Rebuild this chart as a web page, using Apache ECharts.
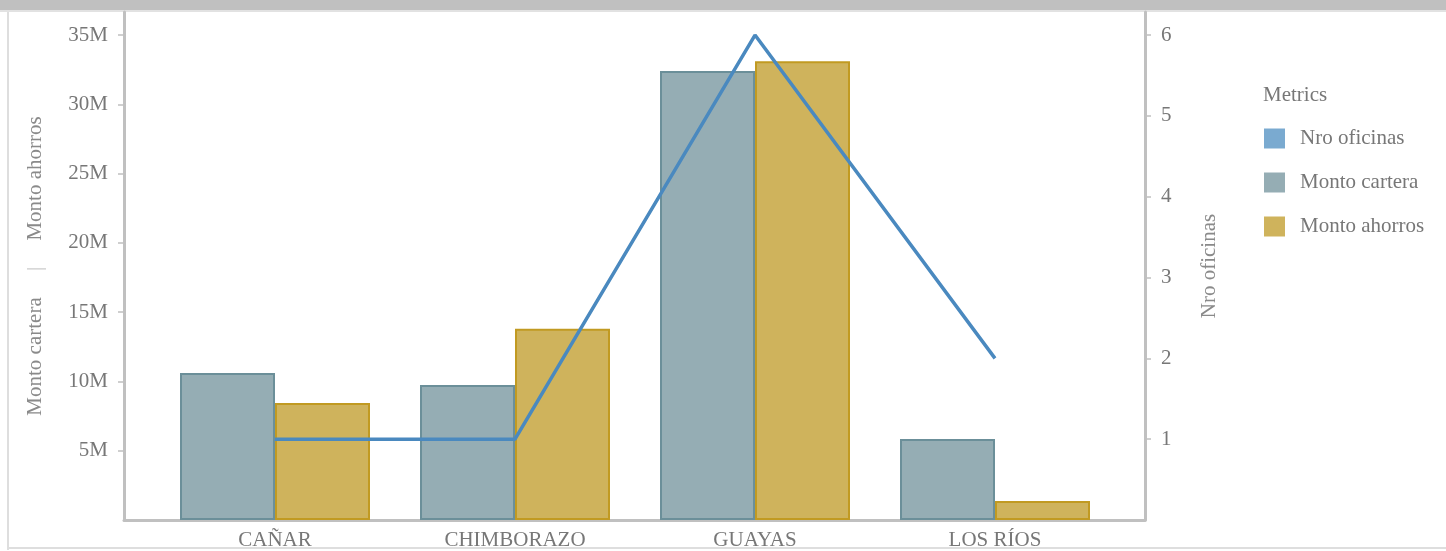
<!DOCTYPE html>
<html>
<head>
<meta charset="utf-8">
<script src="https://cdn.jsdelivr.net/npm/echarts@6/dist/echarts.min.js"></script>
<style>
html,body{margin:0;padding:0;background:#fff;}
#topbar{position:absolute;left:0;top:0;width:1446px;height:10px;background:#c0c0c0;}
#topline{position:absolute;left:0;top:10px;width:1446px;height:2px;background:#e2e2e2;}
#frameL{position:absolute;left:7px;top:12px;width:2px;height:538px;background:#dedede;}
#frameB{position:absolute;left:7px;top:547px;width:1439px;height:2px;background:#dedede;}
#chart{position:absolute;left:0;top:0;width:1446px;height:551px;}
</style>
</head>
<body>
<div id="topbar"></div><div id="topline"></div><div id="frameL"></div><div id="frameB"></div>
<div id="chart"></div>
<script>
const categories = ['CAÑAR', 'CHIMBORAZO', 'GUAYAS', 'LOS RÍOS'];
const nroOficinas = [1, 1, 6, 2];
const montoCartera = [10.6e6, 9.75e6, 32.4e6, 5.85e6];
const montoAhorros = [8.45e6, 13.8e6, 33.1e6, 1.37e6];
const leftTicks = [5e6, 10e6, 15e6, 20e6, 25e6, 30e6, 35e6];
const rightTicks = [1, 2, 3, 4, 5, 6];

const FONT = 'Liberation Serif';
const TXT = '#777777';
const AX = '#c0c0c0';

const chart = echarts.init(document.getElementById('chart'));
chart.setOption({
  animation: false,
  textStyle: { fontFamily: FONT },
  title: {
    text: 'Metrics', left: 1263, top: 85, padding: 0,
    textStyle: { fontFamily: FONT, fontSize: 21, fontWeight: 'normal', color: TXT }
  },
  legend: {
    orient: 'vertical', left: 1264, top: 128, padding: 0,
    itemWidth: 21, itemHeight: 20, itemGap: 23,
    icon: 'rect',
    itemStyle: { borderWidth: 0 },
    textStyle: { fontFamily: FONT, fontSize: 21, color: TXT, padding: [0, 0, 0, 10] },
    data: [
      { name: 'Nro oficinas', itemStyle: { color: '#7aaad0' } },
      { name: 'Monto cartera', itemStyle: { color: '#95adb4' } },
      { name: 'Monto ahorros', itemStyle: { color: '#cfb35c' } }
    ]
  },
  grid: [
    { left: 155, right: 331, top: 12, bottom: 31 },
    { left: 124, right: 301, top: 12, bottom: 31 }
  ],
  xAxis: [
    {
      type: 'category', gridIndex: 0, data: categories,
      axisLine: { show: false }, axisTick: { show: false },
      axisLabel: { fontFamily: FONT, fontSize: 21, color: TXT, margin: 10 }
    },
    {
      type: 'value', gridIndex: 1, min: 0, max: 1,
      axisLine: { show: true, lineStyle: { color: AX, width: 3 } },
      axisTick: { show: false }, axisLabel: { show: false }, splitLine: { show: false }
    }
  ],
  yAxis: [
    {
      type: 'value', gridIndex: 0, position: 'left', offset: 31,
      min: 0, max: 36.66e6,
      name: '{a|Monto cartera}{b|     |     }{a|Monto ahorros}',
      nameLocation: 'middle', nameGap: 78, nameRotate: 90,
      nameTextStyle: {
        rich: {
          a: { fontFamily: FONT, fontSize: 21, color: '#8a8a8a' },
          b: { fontFamily: FONT, fontSize: 21, color: '#c4c4c4' }
        }
      },
      axisLine: { show: true, lineStyle: { color: AX, width: 3 } },
      axisTick: { show: true, length: 6, customValues: leftTicks, lineStyle: { color: AX, width: 1.5 } },
      axisLabel: {
        customValues: leftTicks, margin: 16,
        fontFamily: FONT, fontSize: 21, color: TXT,
        formatter: v => (v / 1e6) + 'M'
      },
      splitLine: { show: false }
    },
    {
      type: 'value', gridIndex: 0, position: 'right', offset: 30,
      min: 0, max: 6.285,
      name: 'Nro oficinas', nameLocation: 'middle', nameGap: 54, nameRotate: 90,
      nameTextStyle: { fontFamily: FONT, fontSize: 21, color: '#8a8a8a' },
      axisLine: { show: true, lineStyle: { color: AX, width: 3 } },
      axisTick: { show: true, length: 6, customValues: rightTicks, lineStyle: { color: AX, width: 1.5 } },
      axisLabel: { customValues: rightTicks, margin: 16, fontFamily: FONT, fontSize: 21, color: TXT },
      splitLine: { show: false }
    },
    { type: 'value', gridIndex: 1, show: false, min: 0, max: 1 }
  ],
  series: [
    {
      name: 'Monto cartera', type: 'bar', xAxisIndex: 0, yAxisIndex: 0,
      data: montoCartera, barWidth: 95, barGap: '0%',
      itemStyle: { color: '#95adb4', borderColor: '#6b8f99', borderWidth: 2 }
    },
    {
      name: 'Monto ahorros', type: 'bar', xAxisIndex: 0, yAxisIndex: 0,
      data: montoAhorros, barWidth: 95, barGap: '0%',
      itemStyle: { color: '#cfb35c', borderColor: '#c19a22', borderWidth: 2 }
    },
    {
      name: 'Nro oficinas', type: 'line', xAxisIndex: 0, yAxisIndex: 1,
      data: nroOficinas, showSymbol: false, symbol: 'none', z: 5,
      lineStyle: { color: '#4a89bf', width: 3.5 },
      itemStyle: { color: '#4a89bf' }
    }
  ]
});
</script>
</body>
</html>
